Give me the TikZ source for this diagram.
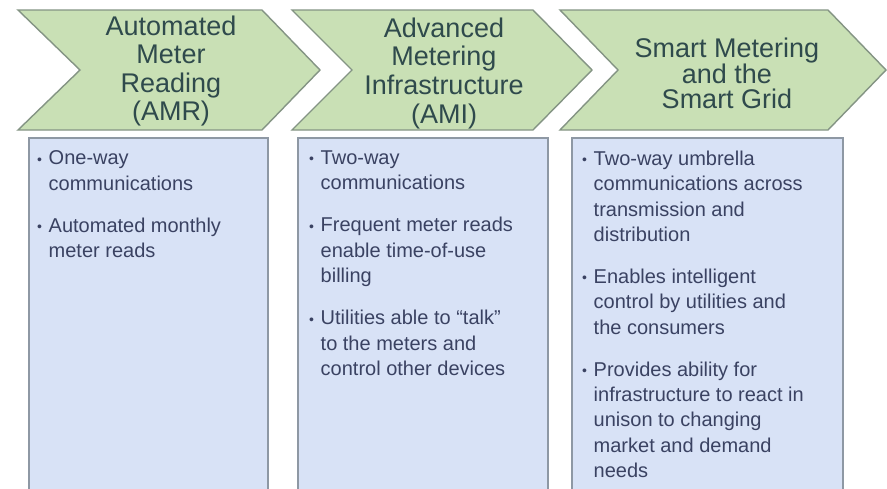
\documentclass[tikz,border=0pt]{standalone}
\usepackage{fontspec}
\setmainfont{Liberation Sans}
\definecolor{chevfill}{HTML}{C9E0B5}
\definecolor{chevline}{HTML}{849484}
\definecolor{boxfill}{HTML}{D8E2F6}
\definecolor{boxline}{HTML}{8E98A4}
\definecolor{headcol}{HTML}{2F4A4C}
\definecolor{bodycol}{HTML}{3A4262}
\newcommand\bitem{\makebox[11.5pt][l]{\raisebox{0.5pt}{\fontsize{14}{14}\selectfont •}}}
\newcommand\cont{\hspace*{11.5pt}}
\begin{document}
\begin{tikzpicture}[x=1pt,y=-1pt,
  chev/.style={fill=chevfill, draw=chevline, line width=1.4pt, line join=miter},
  colbox/.style={fill=boxfill, draw=boxline, line width=1.2pt},
  headtxt/.style={anchor=north, inner sep=0pt, align=center, text=headcol},
  bodytxt/.style={anchor=north west, inner sep=0pt, align=left, text=bodycol,
    font=\fontsize{20}{25.4}\selectfont}]
\useasboundingbox (0,0) rectangle (887,488);
\clip (0,0) rectangle (887,488);
\fill[white] (0,0) rectangle (887,488);
% chevrons
\draw[chev] (18,10) -- (262,10) -- (320,70) -- (262,130) -- (18,130) -- (80,70) -- cycle;
\draw[chev] (292,10) -- (533,10) -- (592,70) -- (533,130) -- (292,130) -- (352,70) -- cycle;
\draw[chev] (560,10) -- (828,10) -- (886,70) -- (828,130) -- (560,130) -- (618,70) -- cycle;
% boxes
\draw[colbox] (29,138) rectangle (268,500);
\draw[colbox] (298,138) rectangle (548,500);
\draw[colbox] (572,138) rectangle (843,500);
% heading texts
\node[headtxt, font=\fontsize{27}{28.4}\selectfont] (h1) at (171,15.5)
  {Automated\\Meter\\Reading\\(AMR)};
\node[headtxt, font=\fontsize{27}{28.6}\selectfont] (h2) at (444,17.5)
  {Advanced\\Metering\\Infrastructure\\(AMI)};
\node[headtxt, font=\fontsize{27}{25}\selectfont] (h3) at (727,37.5)
  {Smart Metering\\and the\\Smart Grid};
% body texts
\node[bodytxt] (b1) at (37,150.5)
  {\bitem One-way\\ \cont communications\\[16.6pt]
   \bitem Automated monthly\\ \cont meter reads};
\node[bodytxt] (b2) at (309,150.5)
  {\bitem Two-way\\ \cont communications\\[16.6pt]
   \bitem Frequent meter reads\\ \cont enable time-of-use\\ \cont billing\\[16.6pt]
   \bitem Utilities able to “talk”\\ \cont to the meters and\\ \cont control other devices};
\node[bodytxt] (b3) at (582,150.5)
  {\bitem Two-way umbrella\\ \cont communications across\\ \cont transmission and\\ \cont distribution\\[16.6pt]
   \bitem Enables intelligent\\ \cont control by utilities and\\ \cont the consumers\\[16.6pt]
   \bitem Provides ability for\\ \cont infrastructure to react in\\ \cont unison to changing\\ \cont market and demand\\ \cont needs};
\end{tikzpicture}
\end{document}
